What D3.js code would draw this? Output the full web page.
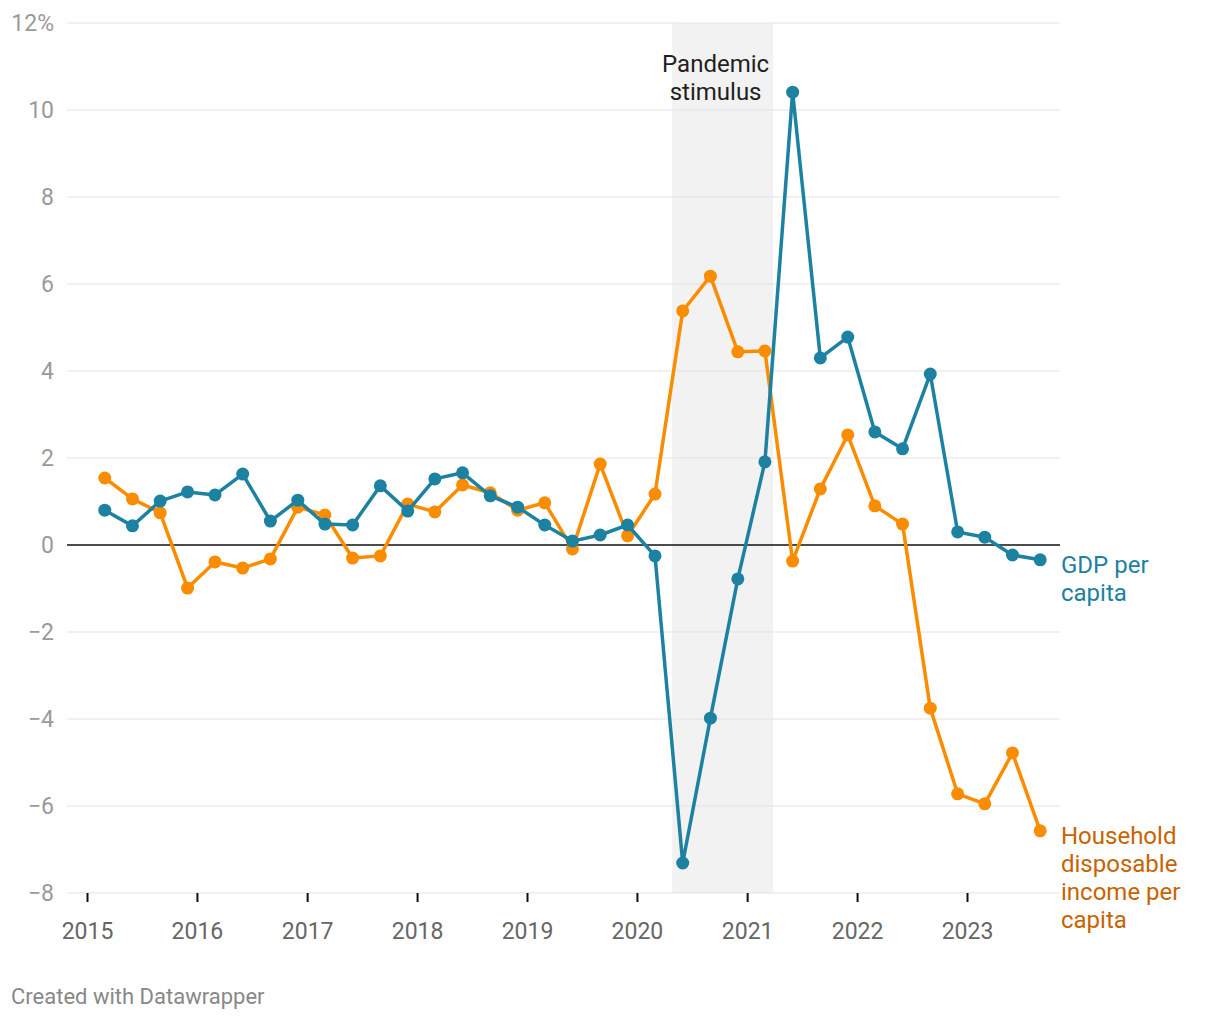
<!DOCTYPE html>
<html><head><meta charset="utf-8">
<script src="https://cdn.jsdelivr.net/npm/d3@7"></script>
<style>body{margin:0;background:#fff;} svg text{font-family:Roboto,sans-serif;}</style>
</head><body>
<svg id="c" width="1220" height="1020"></svg>
<script>
const dates = ["2015-03-01","2015-06-01","2015-09-01","2015-12-01","2016-03-01","2016-06-01","2016-09-01","2016-12-01",
"2017-03-01","2017-06-01","2017-09-01","2017-12-01","2018-03-01","2018-06-01","2018-09-01","2018-12-01",
"2019-03-01","2019-06-01","2019-09-01","2019-12-01","2020-03-01","2020-06-01","2020-09-01","2020-12-01",
"2021-03-01","2021-06-01","2021-09-01","2021-12-01","2022-03-01","2022-06-01","2022-09-01","2022-12-01",
"2023-03-01","2023-06-01","2023-09-01"];
const gdp = [0.80,0.44,1.01,1.22,1.15,1.63,0.55,1.03,0.48,0.46,1.36,0.78,1.52,1.66,1.13,0.87,
0.46,0.09,0.23,0.46,-0.25,-7.31,-3.98,-0.78,1.91,10.41,4.30,4.78,2.60,2.21,3.93,0.30,0.18,-0.23,-0.34];
const income = [1.54,1.06,0.74,-0.99,-0.39,-0.53,-0.32,0.87,0.69,-0.30,-0.25,0.94,0.76,1.38,1.20,0.80,
0.97,-0.09,1.86,0.21,1.17,5.38,6.18,4.44,4.46,-0.37,1.29,2.53,0.90,0.48,-3.75,-5.72,-5.95,-4.78,-6.57];
const yTicks = [-8,-6,-4,-2,0,2,4,6,8,10,12];
const xTickYears = [2015,2016,2017,2018,2019,2020,2021,2022,2023];
const shadeRange = ["2020-04-27","2021-03-28"];
const shadeLabel = ["Pandemic","stimulus"];
const gdpLabel = ["GDP per","capita"];
const incomeLabel = ["Household","disposable","income per","capita"];
const footer = "Created with Datawrapper";

const parse = d3.timeParse("%Y-%m-%d");
const svg = d3.select("#c");
const x = d3.scaleTime().domain([new Date(2015,0,1), new Date(2023,0,1)]).range([87,967]);
const y = d3.scaleLinear().domain([-8,12]).range([893,23]);
const left = 67, right = 1060;

svg.append("rect").attr("x", x(parse(shadeRange[0]))).attr("y", y(12))
  .attr("width", x(parse(shadeRange[1])) - x(parse(shadeRange[0])))
  .attr("height", y(-8) - y(12)).attr("fill", "#f2f2f2");

svg.append("g").selectAll("line").data(yTicks.filter(d=>d!==0)).join("line")
  .attr("x1", left).attr("x2", right).attr("y1", d=>y(d)).attr("y2", d=>y(d))
  .attr("stroke", "#e3e3e3").attr("stroke-width", 1);
svg.append("g").selectAll("text").data(yTicks).join("text")
  .attr("x", 54).attr("y", d=>y(d)).attr("dy","0.35em").attr("text-anchor","end")
  .attr("fill","#9a9a9a").style("font-size","23px")
  .text(d=> d===12 ? "12%" : (d<0 ? "\u2212"+Math.abs(d) : d));

svg.append("line").attr("x1", left).attr("x2", right).attr("y1", y(0)).attr("y2", y(0))
  .attr("stroke", "#111").attr("stroke-width", 1.5);

const xa = svg.append("g").attr("transform", `translate(0,${y(-8)})`)
  .call(d3.axisBottom(x).tickValues(xTickYears.map(v=>new Date(v,0,1))).tickFormat(d3.timeFormat("%Y")).tickSize(9).tickPadding(21));
xa.select(".domain").remove();
xa.selectAll("line").attr("stroke","#111").attr("stroke-width",2);
xa.selectAll("text").attr("fill","#666").style("font-size","23px").style("font-family","Roboto");

const cx = (x(parse(shadeRange[0]))+x(parse(shadeRange[1])))/2 - 7;
svg.append("g").selectAll("text").data(shadeLabel).join("text")
  .attr("x", cx).attr("y",(d,i)=>66 + i*28).attr("text-anchor","middle").attr("dominant-baseline","middle")
  .attr("fill","#1f1f1f").style("font-size","24px").text(d=>d);

const series = [
  {vals: income, color:"#fa8c00"},
  {vals: gdp, color:"#1d81a2"}
];
const line = d3.line().x(d=>x(d.date)).y(d=>y(d.v));
series.forEach(s=>{
  const pts = dates.map((d,i)=>({date:parse(d), v:s.vals[i]}));
  svg.append("path").datum(pts).attr("d", line).attr("fill","none")
    .attr("stroke", s.color).attr("stroke-width", 3.5).attr("stroke-linejoin","round");
  svg.append("g").selectAll("circle").data(pts).join("circle")
    .attr("cx", d=>x(d.date)).attr("cy", d=>y(d.v)).attr("r", 6.5).attr("fill", s.color);
});

function label(lines, yStart, color){
  svg.append("g").selectAll("text").data(lines).join("text")
    .attr("x", 1061).attr("y", (d,i)=>yStart + i*28).attr("dominant-baseline","middle")
    .attr("fill", color).style("font-size","24px").text(d=>d);
}
label(gdpLabel, y(gdp[gdp.length-1]) + 7, "#1d81a2");
label(incomeLabel, y(income[income.length-1]) + 7, "#c76400");

svg.append("text").attr("x", 11).attr("y", 998).attr("dominant-baseline","middle")
  .attr("fill","#888").style("font-size","22px").text(footer);
</script>
</body></html>
